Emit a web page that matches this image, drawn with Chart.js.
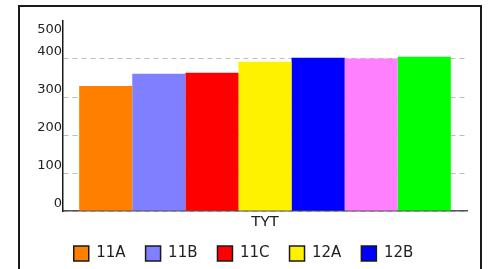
<!DOCTYPE html>
<html lang="tr">
<head>
    <meta charset="UTF-8" />
    <script src="https://cdn.jsdelivr.net/npm/chart.js"></script>
    <title>TYT</title>
    <style>
        html, body { margin: 0; padding: 0; background: #fff; overflow: hidden; height: 269px; }
        #frame { position: absolute; left: 18px; top: 5px; width: 460px; height: 299px; border: 2px solid #1a1a1a; }
        #frame canvas { display: block; }
    </style>
</head>
<body>
    <div id="frame"><canvas id="grafico"></canvas></div>

    <script>
        // datos del gráfico
        const categorias = ['TYT'];
        const grupos = ['11A', '11B', '11C', '12A', '12B', '12C', '12D'];
        const valores = [329, 361, 364, 393, 403, 401, 406];
        const colores = ['#ff8000', '#7f7fff', '#ff0000', '#fff200', '#0000ff', '#ff80ff', '#00ff00'];
        const yTicks = [0, 100, 200, 300, 400, 500];

        const fuente = 'DejaVu Sans, sans-serif';

        const ctx = document.getElementById('grafico').getContext('2d');
        new Chart(ctx, {
            type: 'bar',
            data: {
                labels: categorias,
                datasets: grupos.map((g, i) => ({
                    label: g,
                    data: [valores[i]],
                    backgroundColor: colores[i],
                    borderWidth: 0,
                    categoryPercentage: 0.92,
                    barPercentage: 1
                }))
            },
            options: {
                responsive: true,
                maintainAspectRatio: false,
                animation: false,
                layout: { padding: { top: 14, right: 13, left: 0, bottom: 0 } },
                plugins: {
                    tooltip: { enabled: false },
                    legend: {
                        position: 'bottom',
                        labels: {
                            boxWidth: 15,
                            boxHeight: 15,
                            padding: 20,
                            color: '#222',
                            font: { size: 15, family: fuente },
                            generateLabels: chart => {
                                const items = Chart.defaults.plugins.legend.labels.generateLabels(chart);
                                items.forEach(it => { it.strokeStyle = '#1a1a1a'; it.lineWidth = 1.5; });
                                return items;
                            }
                        }
                    }
                },
                scales: {
                    x: {
                        afterFit: s => { s.height = s.height - 11; },
                        grid: { display: false, drawTicks: false },
                        border: { color: '#555', width: 1.5 },
                        ticks: { color: '#222', padding: 4, font: { size: 15, family: fuente } }
                    },
                    y: {
                        min: 0,
                        max: 500,
                        afterFit: s => { s.width = 43; s.paddingTop = 0; s.paddingBottom = 0; },
                        afterBuildTicks: s => { s.ticks = yTicks.map(v => ({ value: v })); },
                        grid: {
                            drawTicks: false,
                            color: c => (c.tick && c.tick.value === 500) ? 'rgba(0,0,0,0)' : '#bdbdbd',
                            lineWidth: 1
                        },
                        border: { color: '#1a1a1a', width: 1.5, dash: [5, 4] },
                        ticks: {
                            autoSkip: false,
                            color: '#222',
                            padding: 1,
                            labelOffset: -7,
                            font: { size: 13, family: fuente },
                            callback: v => v === 500 ? ['', '', String(v)] : String(v)
                        }
                    }
                }
            }
        });
    </script>
</body>
</html>
